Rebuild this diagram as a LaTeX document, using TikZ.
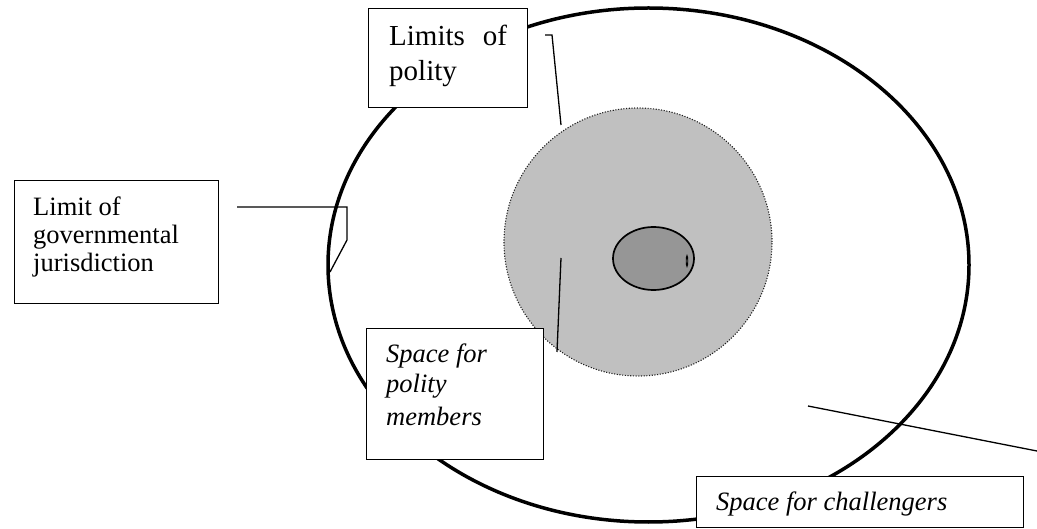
\documentclass[tikz,border=0pt]{standalone}
\usepackage{fontspec}
\setmainfont{Liberation Serif}
\begin{document}
\begin{tikzpicture}[x=1pt,y=-1pt,
  labelbox/.style={draw=black,line width=1.3pt,fill=white,inner sep=0pt,anchor=north west},
  txt/.style={inner sep=0pt,anchor=base west,font=\fontsize{26.5}{30}\selectfont},
  bigtxt/.style={inner sep=0pt,anchor=base west,font=\fontsize{29}{33}\selectfont},
  itxt/.style={txt,font=\fontsize{26.5}{30}\selectfont\itshape},
  conn/.style={draw=black,line width=1.3pt}]
\useasboundingbox (0,0) rectangle (1037,529);
% gray polity circle
\fill[fill={rgb,255:red,192;green,192;blue,192}] (638,242) circle[radius=134pt];
\draw[line width=1.1pt,dash pattern=on 1.1pt off 1.6pt,draw={rgb,255:red,30;green,30;blue,30}] (638,242) circle[radius=134pt];
% inner ellipse
\draw[line width=1.7pt,fill={rgb,255:red,150;green,150;blue,150}] (653.5,258.5) ellipse[x radius=40.5pt,y radius=31.5pt];
\draw[line width=0.9pt] (687,261) ellipse[x radius=0.8pt,y radius=5.5pt];
% big ellipse
\draw[line width=3.5pt] (648.5,265) ellipse[x radius=320.5pt,y radius=257pt];
% connectors
\coordinate (p1) at (545,35);
\coordinate (p2) at (552,35);
\coordinate (p3) at (561,125);
\draw[conn] (p1) -- (p2) -- (p3);
\coordinate (j1) at (237,207);
\coordinate (j2) at (347,207);
\coordinate (j3) at (347,240);
\coordinate (j4) at (330,272);
\draw[conn] (j1) -- (j2) -- (j3) -- (j4);
\coordinate (m1) at (561,258);
\coordinate (m2) at (557,352);
\draw[conn] (m1) -- (m2);
\coordinate (c1) at (808,406);
\coordinate (c2) at (1037,451);
\draw[conn] (c1) -- (c2);
% boxes
\node[labelbox,minimum width=159pt,minimum height=99pt] (polbox) at (368,8) {};
\node[labelbox,minimum width=204pt,minimum height=123pt] (jurbox) at (14,180) {};
\node[labelbox,minimum width=177pt,minimum height=131pt] (membox) at (366,328) {};
\node[labelbox,minimum width=327pt,minimum height=51pt] (chalbox) at (696,476) {};
% texts
\node[bigtxt] (pol1) at (389,46) {Limits\hspace{18pt}of};
\node[bigtxt] (pol2) at (389,81) {polity};
\node[txt] (jur1) at (33,216) {Limit of};
\node[txt] (jur2) at (33,244) {governmental};
\node[txt] (jur3) at (33,272) {jurisdiction};
\node[itxt] (mem1) at (386,363) {Space for};
\node[itxt] (mem2) at (386,393) {polity};
\node[itxt] (mem3) at (386,425) {members};
\node[itxt] (chal1) at (716,510) {Space for challengers};
\end{tikzpicture}
\end{document}
